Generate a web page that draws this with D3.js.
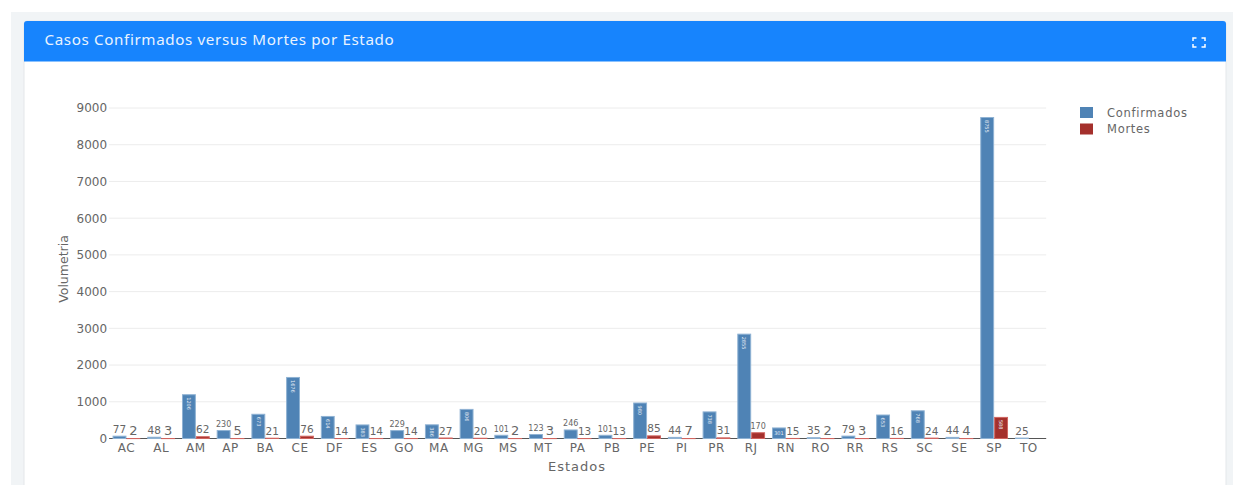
<!DOCTYPE html>
<html>
<head>
<meta charset="utf-8">
<title>Casos Confirmados versus Mortes por Estado</title>
<script src="https://cdn.jsdelivr.net/npm/d3@7"></script>
<style>
  html, body { margin: 0; padding: 0; background: #fff; overflow: hidden; }
  text { font-family: "DejaVu Sans", sans-serif; }
  .title { font-family: "Noto Sans", sans-serif; }
</style>
</head>
<body>
<svg id="chart" width="1233" height="485"></svg>
<script>
const estados = ['AC', 'AL', 'AM', 'AP', 'BA', 'CE', 'DF', 'ES', 'GO', 'MA', 'MG', 'MS', 'MT', 'PA', 'PB', 'PE', 'PI', 'PR', 'RJ', 'RN', 'RO', 'RR', 'RS', 'SC', 'SE', 'SP', 'TO'];
const confirmados = [77, 48, 1206, 230, 673, 1676, 614, 383, 229, 386, 806, 101, 123, 246, 101, 980, 44, 738, 2855, 301, 35, 79, 653, 768, 44, 8755, 25];
const mortes = [2, 3, 62, 5, 21, 76, 14, 14, 14, 27, 20, 2, 3, 13, 13, 85, 7, 31, 170, 15, 2, 3, 16, 24, 4, 588, null];
const yTicks = [0, 1000, 2000, 3000, 4000, 5000, 6000, 7000, 8000, 9000];
const seriesNames = ['Confirmados', 'Mortes'];
const seriesColors = ['#4f83b5', '#a4302c'];
const seriesEdges = ['#8fb2d3', '#d0645f'];

const svg = d3.select('#chart');

// page + card
svg.append('rect').attr('x', 11).attr('y', 12).attr('width', 1222).attr('height', 473).attr('fill', '#f1f4f6');
svg.append('rect').attr('x', 24).attr('y', 21).attr('width', 1202).attr('height', 470).attr('rx', 3).attr('fill', '#fff').attr('stroke', '#e4e7ea');
svg.append('path').attr('d', 'M24,61.5V24a3,3 0 0 1 3,-3H1223a3,3 0 0 1 3,3V61.5Z').attr('fill', '#1784fd');
svg.append('text').attr('class', 'title').attr('x', 44.5).attr('y', 45).attr('fill', '#e9f3ff')
  .style('font-size', '15.2px').style('letter-spacing', '0.62px').text('Casos Confirmados versus Mortes por Estado');

// fullscreen icon
svg.append('path')
  .attr('d', 'M1193,41V38H1196.5M1201.5,38H1205V41M1205,44V47H1201.5M1196.5,47H1193V44')
  .attr('fill', 'none').attr('stroke', '#fff').attr('stroke-width', 1.5);

const x = d3.scaleBand().domain(estados).range([109.1, 1046.2]).paddingInner(0.2).paddingOuter(0.1);
const xSub = d3.scaleBand().domain(seriesNames).range([0, x.bandwidth()]);
const y = d3.scaleLinear().domain([0, 9000]).range([438.5, 108]);

// grid
svg.append('g').selectAll('line').data(yTicks.slice(1)).join('line')
  .attr('x1', 109.1).attr('x2', 1046.2)
  .attr('y1', d => y(d)).attr('y2', d => y(d))
  .attr('stroke', '#ececec').attr('stroke-width', 1);

// axes go under the bars, the thin red bars sit on top of the baseline
const xAxis = svg.append('g').attr('transform', 'translate(0,438.5)')
  .call(d3.axisBottom(x).tickSize(0).tickPadding(2));
xAxis.select('.domain').attr('stroke', '#555').attr('d', 'M109.1,0H1046.2');
xAxis.selectAll('text').attr('fill', '#666').attr('dy', '0.95em')
  .style('font-size', '12px').style('letter-spacing', '0.5px');

const yAxis = svg.append('g').attr('transform', 'translate(109.1,0)')
  .call(d3.axisLeft(y).tickValues(yTicks).tickFormat(d3.format('d')).tickSize(0).tickPadding(2));
yAxis.select('.domain').remove();
yAxis.selectAll('text').attr('fill', '#666').style('font-size', '12px');

// bars
const rows = seriesNames.flatMap((name, s) => {
  const vals = s === 0 ? confirmados : mortes;
  return estados.map((uf, i) => ({ uf, name, s, v: vals[i] })).filter(d => d.v !== null);
});
const barW = xSub.bandwidth();
const barX = d => x(d.uf) + xSub(d.name);

// the stroke's outer edge marks the value, so the rect starts half a stroke lower
svg.append('g').selectAll('rect').data(rows).join('rect')
  .attr('x', d => barX(d) + 0.5)
  .attr('y', d => Math.min(y(d.v) + 0.5, y(0)))
  .attr('width', barW - 1)
  .attr('height', d => Math.max(y(0) - y(d.v) - 0.5, 0.1))
  .attr('fill', d => seriesColors[d.s])
  .attr('stroke', d => seriesEdges[d.s])
  .attr('stroke-width', 1);

// bar labels: rotated when it fits inside, tiny flat inside, otherwise above the bar
const gLabel = svg.append('g');
rows.forEach(d => {
  const h = y(0) - y(d.v);
  const cx = barX(d) + barW / 2;
  const t = gLabel.append('text').attr('text-anchor', 'middle').text(d.v);
  if (h >= 13) {
    t.attr('transform', `translate(${cx},${y(d.v) + 3}) rotate(90)`)
      .attr('text-anchor', 'start').attr('dy', '0.35em')
      .attr('fill', '#e8eef5').style('font-size', '5px');
  } else if (h >= 10) {
    t.attr('x', cx).attr('y', y(d.v) + 7.5).attr('fill', '#e8eef5').style('font-size', '5px');
  } else {
    const size = String(d.v).length >= 3 ? 8 : String(d.v).length === 2 ? 10.5 : 13;
    t.attr('x', cx).attr('y', y(d.v) - 3).attr('fill', '#666').style('font-size', size + 'px');
  }
});

svg.append('text').attr('x', 577).attr('y', 471).attr('text-anchor', 'middle')
  .attr('fill', '#666').style('font-size', '13px').style('letter-spacing', '1px').text('Estados');
svg.append('text').attr('transform', 'translate(68,269) rotate(-90)').attr('text-anchor', 'middle')
  .attr('fill', '#666').style('font-size', '12.5px').text('Volumetria');

// legend
const legend = svg.append('g').selectAll('g').data(seriesNames).join('g')
  .attr('transform', (d, i) => `translate(1080,${107 + i * 16.5})`);
legend.append('rect').attr('width', 13).attr('height', 11)
  .attr('fill', (d, i) => seriesColors[i]);
legend.append('text').attr('x', 27).attr('y', 9.5).attr('fill', '#666')
  .style('font-size', '11.5px').style('letter-spacing', '0.72px').text(d => d);
</script>
</body>
</html>
